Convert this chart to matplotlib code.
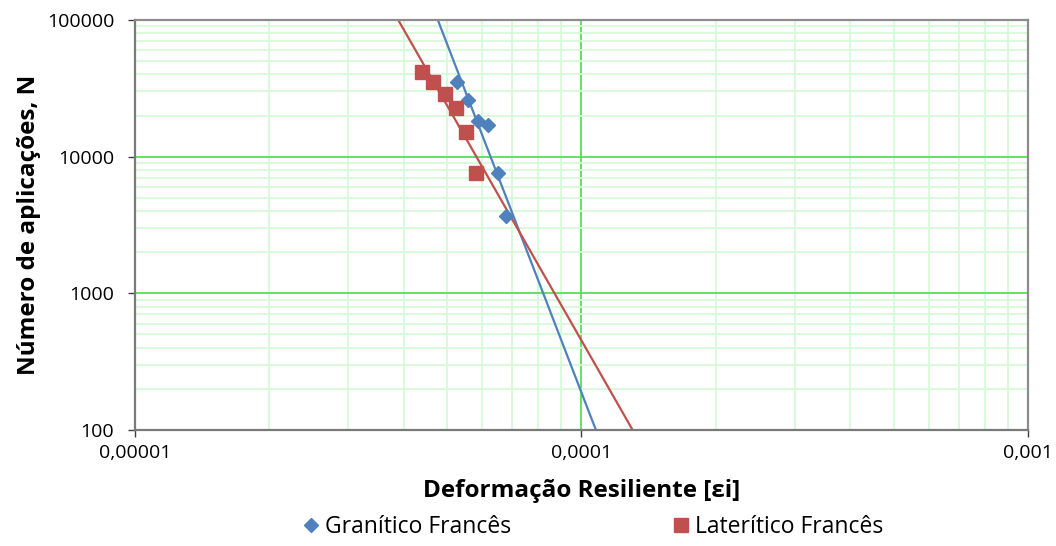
import numpy as np
import matplotlib.pyplot as plt
from matplotlib.ticker import FixedLocator, FixedFormatter, LogLocator, NullFormatter

# Dados
def_granitico = [5.27e-5, 5.58e-5, 5.87e-5, 6.18e-5, 6.49e-5, 6.76e-5]
n_granitico = [35400, 26000, 18300, 17100, 7640, 3700]

def_lateritico = [4.39e-5, 4.66e-5, 4.95e-5, 5.24e-5, 5.52e-5, 5.80e-5]
n_lateritico = [41900, 35400, 28600, 22600, 15200, 7560]

x_ticks = [1e-5, 1e-4, 1e-3]
x_labels = ["0,00001", "0,0001", "0,001"]
y_ticks = [100, 1000, 10000, 100000]
y_labels = ["100", "1000", "10000", "100000"]

azul = "#4F81BD"
vermelho = "#C0504D"

plt.rcParams['font.family'] = ['Open Sans', 'DejaVu Sans']

fig = plt.figure(figsize=(10.56, 5.46), dpi=100)
ax = fig.add_axes([0.1278, 0.2125, 0.9735 - 0.1278, 0.9634 - 0.2125])
ax.set_xscale('log')
ax.set_yscale('log')
ax.set_xlim(1e-5, 1e-3)
ax.set_ylim(100, 100000)

# grade
ax.xaxis.set_minor_locator(LogLocator(base=10, subs=np.arange(2, 10)))
ax.yaxis.set_minor_locator(LogLocator(base=10, subs=np.arange(2, 10)))
ax.xaxis.set_minor_formatter(NullFormatter())
ax.yaxis.set_minor_formatter(NullFormatter())
ax.grid(which='minor', color='#d4fad4', linewidth=1.2)
ax.grid(which='major', color='#44e044', linewidth=1.2)
ax.set_axisbelow(True)

# linhas de tendência (potência)
xs = np.logspace(-5, -3, 200)
for xd, yd, cor in [(def_granitico, n_granitico, azul),
                    (def_lateritico, n_lateritico, vermelho)]:
    b, a = np.polyfit(np.log10(xd), np.log10(yd), 1)
    ax.plot(xs, 10 ** (a + b * np.log10(xs)), color=cor, linewidth=1.6, zorder=2)

ax.plot(def_granitico, n_granitico, linestyle='none', marker='D', markersize=7.5,
        color=azul, label='Granítico Francês', zorder=3)
ax.plot(def_lateritico, n_lateritico, linestyle='none', marker='s', markersize=9.5,
        color=vermelho, label='Laterítico Francês', zorder=3)

ax.xaxis.set_major_locator(FixedLocator(x_ticks))
ax.xaxis.set_major_formatter(FixedFormatter(x_labels))
ax.yaxis.set_major_locator(FixedLocator(y_ticks))
ax.yaxis.set_major_formatter(FixedFormatter(y_labels))
ax.tick_params(which='major', length=5, width=1, color='#404040', labelsize=14)
ax.tick_params(axis='y', pad=10)
ax.tick_params(axis='x', pad=5)
ax.tick_params(which='minor', length=0)

for s in ax.spines.values():
    s.set_color('#7a7a7a')
    s.set_linewidth(1.6)
ax.spines['right'].set_color('#8c8c8c')
ax.spines['top'].set_color('#8c8c8c')

ax.set_xlabel('Deformação Resiliente [εi]', fontsize=17.5, fontweight='bold', labelpad=12)
ax.set_ylabel('Número de aplicações, N', fontsize=17.5, fontweight='bold', labelpad=4)

fig.legend(loc='lower center', bbox_to_anchor=(0.56, -0.025), ncol=2, frameon=False,
           fontsize=16.5, columnspacing=6.9, handletextpad=0.1, handlelength=1.0)

plt.savefig('out.png', dpi=100)
